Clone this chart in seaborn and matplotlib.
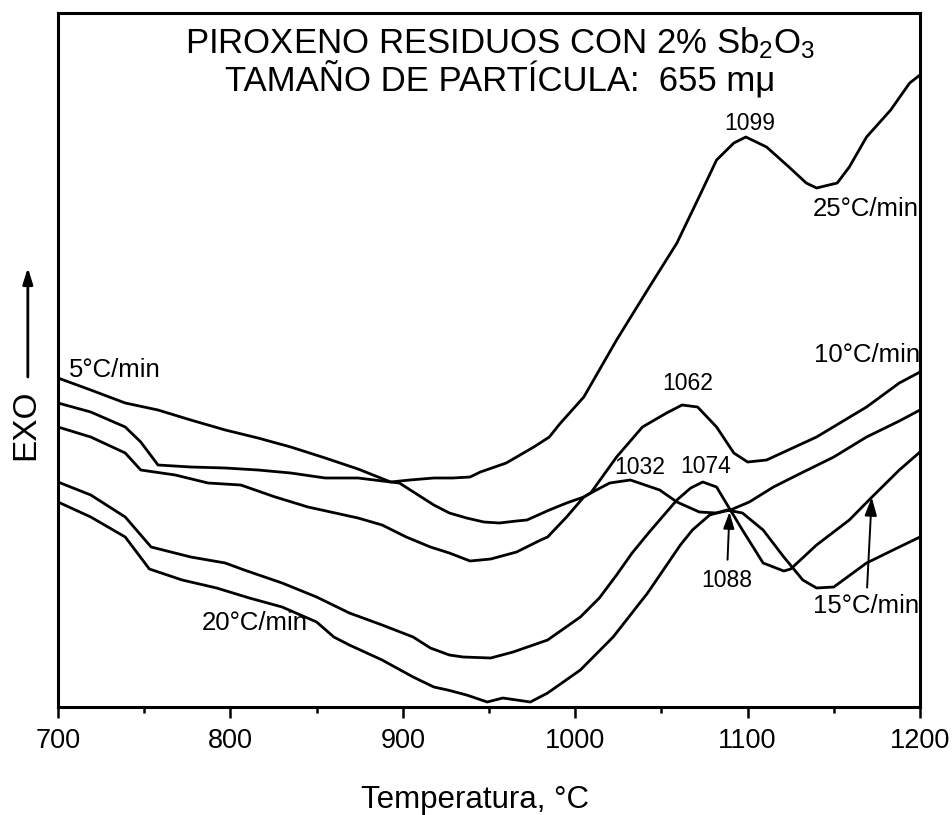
import numpy as np
import pandas as pd
import matplotlib
matplotlib.use("Agg")
import matplotlib.pyplot as plt
import seaborn as sns

sns.set_theme(style="ticks")
plt.rcParams["font.family"] = ["Liberation Sans", "DejaVu Sans"]
plt.rcParams["mathtext.default"] = "regular"
plt.rcParams["text.color"] = "black"
plt.rcParams["axes.labelcolor"] = "black"
plt.rcParams["xtick.color"] = "black"

# DTA traces: temperature (°C) and signal (arbitrary units, exothermic up)
rates = ["5°C/min", "10°C/min", "15°C/min", "20°C/min", "25°C/min"]

temp_5 = [700, 719, 739, 758, 777, 797, 816, 835, 855, 874, 893, 898, 918, 927, 937,
          947, 956, 966, 972, 985, 995, 1005, 1009, 1020, 1032, 1049, 1059, 1072, 1082,
          1090, 1101, 1115, 1130, 1150, 1169, 1188, 1200]
sig_5 = [32.9, 31.7, 30.4, 29.7, 28.7, 27.7, 26.9, 26.0, 24.9, 23.8, 22.5, 22.4, 20.2, 19.4,
         18.9, 18.5, 18.4, 18.6, 18.7, 19.7, 20.4, 21.0, 21.4, 22.4, 22.7, 21.7, 20.5, 19.5,
         19.4, 19.7, 20.5, 22.0, 23.3, 25.0, 27.0, 28.6, 29.7]

temp_10 = [700, 719, 739, 748, 768, 787, 806, 826, 845, 874, 888, 902, 916, 927, 939, 951,
           966, 980, 984, 995, 1005, 1009, 1024, 1039, 1053, 1062, 1071, 1082, 1092, 1100,
           1111, 1140, 1169, 1188, 1200]
sig_10 = [28.0, 27.0, 25.4, 23.7, 23.2, 22.4, 22.2, 21.0, 20.0, 18.9, 18.2, 17.0, 16.0, 15.4,
          14.6, 14.8, 15.5, 16.7, 17.0, 19.0, 21.0, 21.4, 25.0, 28.0, 29.4, 30.2, 30.0, 28.0,
          25.4, 24.5, 24.7, 27.0, 30.0, 32.4, 33.5]

temp_15 = [700, 719, 739, 754, 777, 797, 808, 830, 850, 869, 888, 906, 916, 927, 935, 951,
           964, 984, 1003, 1014, 1024, 1033, 1043, 1059, 1067, 1074, 1082, 1090, 1097, 1109,
           1121, 1125, 1140, 1159, 1171, 1188, 1200]
sig_15 = [22.5, 21.2, 19.0, 16.0, 15.0, 14.4, 13.7, 12.4, 11.0, 9.4, 8.2, 7.0, 5.9, 5.2, 5.0,
          4.9, 5.5, 6.7, 9.0, 10.9, 13.2, 15.4, 17.5, 20.7, 21.9, 22.5, 22.0, 19.7, 17.7, 14.4,
          13.6, 13.8, 16.2, 18.7, 20.8, 23.7, 25.5]

temp_20 = [700, 719, 739, 753, 772, 792, 811, 830, 850, 860, 869, 888, 906, 918, 926, 937,
           949, 958, 974, 984, 1003, 1022, 1042, 1061, 1068, 1078, 1088, 1097, 1109, 1121,
           1132, 1140, 1150, 1169, 1188, 1200]
sig_20 = [20.5, 19.0, 17.0, 13.8, 12.7, 11.9, 10.9, 10.0, 8.5, 7.0, 6.2, 4.7, 3.0, 2.0, 1.7,
          1.2, 0.5, 0.9, 0.5, 1.4, 3.7, 7.0, 11.4, 16.2, 17.7, 19.2, 19.7, 19.4, 17.7, 15.0,
          12.7, 11.9, 12.0, 14.4, 16.0, 17.0]

temp_25 = [700, 719, 739, 748, 758, 777, 797, 816, 835, 855, 874, 893, 904, 918, 929, 939,
           945, 960, 976, 985, 991, 1005, 1024, 1043, 1059, 1071, 1082, 1092, 1099, 1111,
           1124, 1134, 1140, 1152, 1159, 1169, 1183, 1194, 1200]
sig_25 = [30.4, 29.5, 28.0, 26.5, 24.2, 24.0, 23.9, 23.7, 23.4, 22.9, 22.9, 22.5, 22.7, 22.9,
          22.9, 23.0, 23.5, 24.4, 26.0, 27.0, 28.3, 31.0, 36.7, 42.0, 46.4, 50.7, 54.7, 56.4,
          57.0, 56.0, 54.0, 52.4, 51.9, 52.4, 54.0, 57.0, 59.7, 62.4, 63.2]

# exothermic peak temperatures and the trace each belongs to
peak_temps = [1032, 1062, 1074, 1088, 1099]
peak_rates = ["5°C/min", "10°C/min", "15°C/min", "20°C/min", "25°C/min"]

x_ticks = [700, 800, 900, 1000, 1100, 1200]

traces = {
    "5°C/min": (temp_5, sig_5),
    "10°C/min": (temp_10, sig_10),
    "15°C/min": (temp_15, sig_15),
    "20°C/min": (temp_20, sig_20),
    "25°C/min": (temp_25, sig_25),
}
df = pd.concat(
    [pd.DataFrame({"temp": t, "signal": s, "rate": r}) for r, (t, s) in traces.items()],
    ignore_index=True,
)

fig = plt.figure(figsize=(9.52, 8.15), dpi=100)
ax = fig.add_axes([58 / 952, 108 / 815, 862 / 952, 694 / 815])

sns.lineplot(data=df, x="temp", y="signal", hue="rate", hue_order=rates,
             palette=["black"] * len(rates), estimator=None, sort=False,
             legend=False, linewidth=2.0, ax=ax)

ax.set_xlim(700, 1200)
ax.set_ylim(0, 69.4)
ax.set_yticks([])
ax.set_ylabel("")
ax.set_xticks(x_ticks)
ax.set_xticks([750, 850, 950, 1050, 1150], minor=True)
ax.tick_params(axis="x", which="major", direction="out", length=8, width=1.8,
               labelsize=19.5, pad=7, color="black", labelcolor="black")
ax.tick_params(axis="x", which="minor", direction="out", length=4.5, width=1.8,
               color="black")
ax.set_xlabel("Temperatura, °C", fontsize=22.5, labelpad=18, color="black")
ax.xaxis.set_label_coords(0.484, -0.112)
for sp in ax.spines.values():
    sp.set_linewidth(2.2)
    sp.set_color("black")
    sp.set_visible(True)


def value_at(rate, t):
    tt, ss = traces[rate]
    return float(np.interp(t, tt, ss))


# peak temperature labels
peak_offsets = {1032: (7, 0.5), 1062: (4, 7), 1074: (2, 3), 1099: (3, 1.5)}
for t, r in zip(peak_temps, peak_rates):
    v = value_at(r, t)
    if t == 1088:
        ax.annotate(str(t), xy=(t + 1.5, v - 0.2), xytext=(-2, -49),
                    textcoords="offset points", ha="center", va="center",
                    fontsize=16.5,
                    arrowprops=dict(arrowstyle="-|>,head_length=0.6,head_width=0.2",
                                    color="black", lw=1.4, shrinkA=4, shrinkB=0))
    else:
        ax.annotate(str(t), xy=(t, v), xytext=peak_offsets[t],
                    textcoords="offset points", ha="center", va="bottom",
                    fontsize=16.5)

# heating-rate labels
ax.text(733, 33.7, "5°C/min", ha="center", va="center", fontsize=18.5)
ax.text(1200, 35.2, "10°C/min", ha="right", va="center", fontsize=18.5)
ax.text(1199, 49.8, "25°C/min", ha="right", va="center", fontsize=18.5)
ax.text(814, 8.4, "20°C/min", ha="center", va="center", fontsize=18.5)
ax.annotate("15°C/min", xy=(1172, value_at("15°C/min", 1172)), xytext=(-4, -78),
            textcoords="offset points", ha="center", va="center", fontsize=18.5,
            arrowprops=dict(arrowstyle="-|>,head_length=0.6,head_width=0.2",
                            color="black", lw=1.4, shrinkA=2, shrinkB=0))

# title block
ax.text(0.513, 0.957, r"PIROXENO RESIDUOS CON 2% Sb$_2$O$_3$", transform=ax.transAxes,
        ha="center", va="center", fontsize=25)
ax.text(0.513, 0.905, "TAMAÑO DE PARTÍCULA:  655 mμ", transform=ax.transAxes,
        ha="center", va="center", fontsize=25)

# exothermic direction marker
ax.text(-0.037, 0.406, "EXO", rotation=90, transform=ax.transAxes,
        ha="center", va="center", fontsize=24)
ax.annotate("", xy=(-0.035, 0.633), xytext=(-0.035, 0.4755), xycoords="axes fraction",
            textcoords="axes fraction", annotation_clip=False,
            arrowprops=dict(arrowstyle="-|>,head_length=0.8,head_width=0.25",
                            color="black", lw=2.0, shrinkA=0, shrinkB=0))

fig.savefig("out.png", dpi=100, facecolor="white")
